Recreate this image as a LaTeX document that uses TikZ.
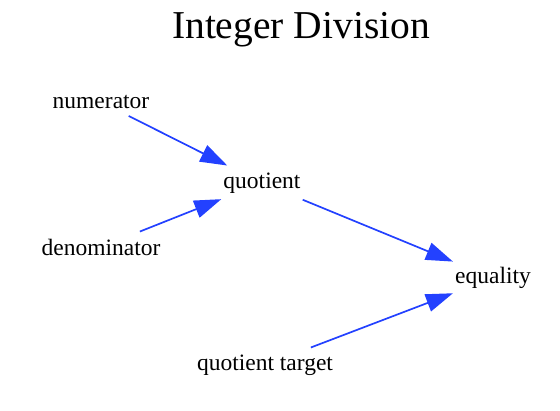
\documentclass[tikz,border=0pt]{standalone}
\usepackage{fontspec}
\setmainfont{Liberation Serif}
\usetikzlibrary{arrows.meta}
\definecolor{edgeblue}{RGB}{35,65,255}

\begin{document}
\begin{tikzpicture}[x=1pt, y=-1pt, >={Triangle[length=27pt, width=18pt]},
    every node/.style={font=\fontsize{23.5}{28}\selectfont, inner xsep=2pt, inner ysep=7pt},
    edge/.style={->, edgeblue, line width=1.7pt}]
        \useasboundingbox (0,0) rectangle (560,410);

        % Title
        \node[font=\fontsize{39.5}{44}\selectfont] (title) at (301,30) {Integer Division};

        % Nodes
        \node (num) at (101,102) {numerator};
        \node (quo) at (262,183) {quotient};
        \node (den) at (101,247) {denominator};
        \node (eq) at (493,278) {equality};
        \node (target) at (265,365) {quotient target};

        % Edges
        \draw[edge] (num) -- (quo);
        \draw[edge] (den) -- (quo);
        \draw[edge] (quo) -- (eq);
        \draw[edge] (target) -- (eq);
    \end{tikzpicture}
\end{document}
